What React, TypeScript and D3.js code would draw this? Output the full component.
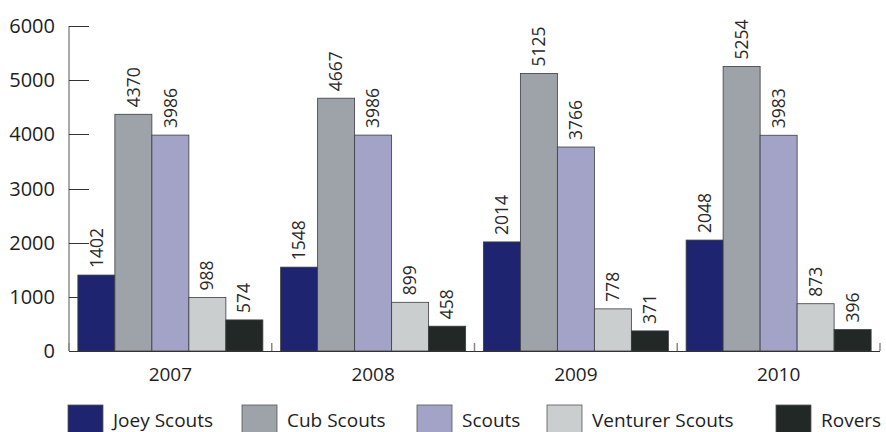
import { useEffect, useRef } from 'react';
import * as d3 from 'd3';

const years = ['2007', '2008', '2009', '2010'];
const sections = ['Joey Scouts', 'Cub Scouts', 'Scouts', 'Venturer Scouts', 'Rovers'];
const colors = ['#1f2470', '#9ea2a9', '#a3a3c8', '#cbcecf', '#222826'];
const joey = [1402, 1548, 2014, 2048];
const cub = [4370, 4667, 5125, 5254];
const scouts = [3986, 3986, 3766, 3983];
const venturer = [988, 899, 778, 873];
const rovers = [574, 458, 371, 396];
const yTicks = [0, 1000, 2000, 3000, 4000, 5000, 6000];

const series = [joey, cub, scouts, venturer, rovers];

export default function App() {
  const svgRef = useRef<SVGSVGElement>(null);

  useEffect(() => {
    if (!svgRef.current) return;
    const W = 886;
    const H = 432;
    const M = { top: 26, right: 6, bottom: 81, left: 69 };
    const font = '"Open Sans", "DejaVu Sans", sans-serif';

    const svg = d3.select(svgRef.current).attr('width', W).attr('height', H);
    svg.selectAll('*').remove();

    const x0 = d3.scaleBand<string>().domain(years).range([M.left, W - M.right]).padding(0);
    const x1 = d3.scaleBand<string>().domain(sections).range([0, x0.bandwidth()])
      .paddingInner(0).paddingOuter(0.24);
    const y = d3.scaleLinear().domain([0, 6000]).range([H - M.bottom, M.top]);

    // y axis line + inward ticks
    svg.append('line')
      .attr('x1', M.left).attr('x2', M.left)
      .attr('y1', y(6000)).attr('y2', y(0))
      .style('stroke', '#555').style('stroke-width', 1);
    const yg = svg.append('g');
    yg.selectAll('line').data(yTicks.filter(t => t > 0)).join('line')
      .attr('x1', M.left).attr('x2', M.left + 20)
      .attr('y1', d => Math.round(y(d)) + 0.5).attr('y2', d => Math.round(y(d)) + 0.5)
      .style('stroke', '#333').style('stroke-width', 1);
    yg.selectAll('text').data(yTicks).join('text')
      .attr('x', 55).attr('y', d => y(d))
      .attr('text-anchor', 'end').attr('dy', '0.35em')
      .style('font-family', font).style('font-size', '20px').style('fill', '#1e1e1e')
      .text(d => String(d));

    // bars
    const groups = svg.append('g').selectAll('g').data(years).join('g')
      .attr('transform', d => `translate(${x0(d)},0)`);
    groups.each(function (yr, yi) {
      const g = d3.select(this);
      sections.forEach((s, si) => {
        const v = series[si][yi];
        const bx = x1(s)!;
        g.append('rect')
          .attr('x', bx).attr('y', y(v))
          .attr('width', x1.bandwidth()).attr('height', y(0) - y(v))
          .style('fill', colors[si]).style('stroke', '#3a3d3f').style('stroke-width', 0.8);
        g.append('text')
          .attr('transform', `translate(${bx + x1.bandwidth() / 2},${y(v) - 7}) rotate(-90)`)
          .attr('text-anchor', 'start').attr('dy', '0.35em')
          .style('font-family', font).style('font-size', '17.5px').style('fill', '#2a2a2a')
          .text(String(v));
      });
    });

    // baseline + category separators
    svg.append('line')
      .attr('x1', M.left).attr('x2', W - M.right)
      .attr('y1', y(0) + 0.5).attr('y2', y(0) + 0.5)
      .style('stroke', '#333').style('stroke-width', 1.2);
    const seps = years.map(yr => x0(yr)!).concat([W - M.right]);
    svg.append('g').selectAll('line').data(seps).join('line')
      .attr('x1', d => d).attr('x2', d => d)
      .attr('y1', y(0) - 8).attr('y2', y(0))
      .style('stroke', '#888').style('stroke-width', 1.5);

    svg.append('g').selectAll('text').data(years).join('text')
      .attr('x', d => x0(d)! + x0.bandwidth() / 2).attr('y', 381)
      .attr('text-anchor', 'middle')
      .style('font-family', font).style('font-size', '19px').style('fill', '#1e1e1e')
      .text(d => d);

    // legend
    const legendX = [68, 242, 417, 547, 776];
    const lg = svg.append('g').selectAll('g').data(sections).join('g')
      .attr('transform', (d, i) => `translate(${legendX[i]},405)`);
    lg.append('rect')
      .attr('width', 35).attr('height', 34)
      .style('fill', (d, i) => colors[i]).style('stroke', '#555').style('stroke-width', 0.8);
    lg.append('text')
      .attr('x', 45).attr('y', 22)
      .style('font-family', font).style('font-size', '19px').style('fill', '#1e1e1e')
      .text(d => d);
  }, []);

  return (
    <svg ref={svgRef} style={{ position: 'absolute', left: 0, top: 0, display: 'block', background: '#fff' }} />
  );
}
